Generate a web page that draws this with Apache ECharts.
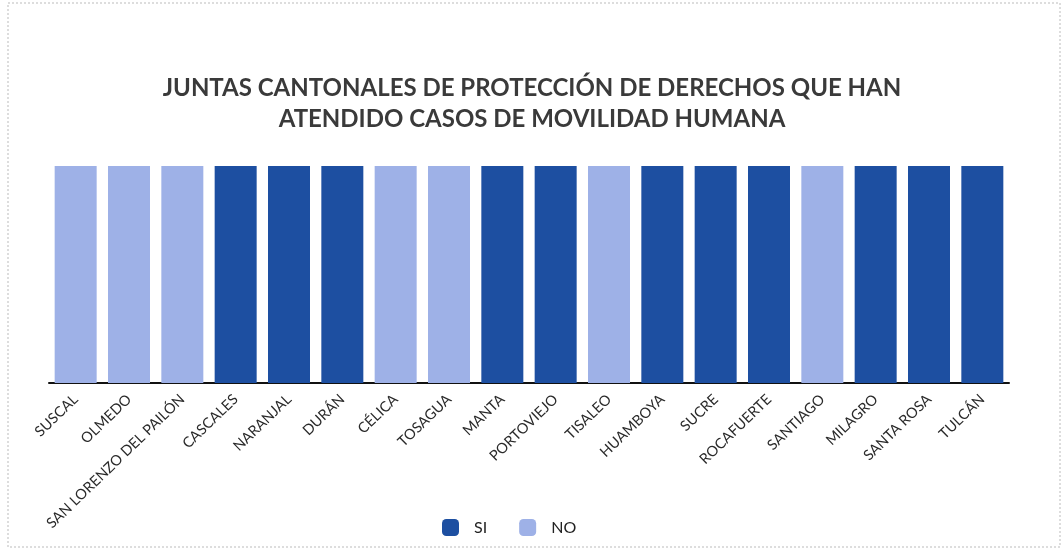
<!DOCTYPE html>
<html>
<head>
<meta charset="utf-8">
<script src="https://cdn.jsdelivr.net/npm/echarts@6/dist/echarts.min.js"></script>
<style>
html,body{margin:0;padding:0;background:#fff;}
#chart{width:1064px;height:551px;}
</style>
</head>
<body>
<div id="chart"></div>
<script>
const categories = ["SUSCAL","OLMEDO","SAN LORENZO DEL PAILÓN","CASCALES","NARANJAL","DURÁN","CÉLICA","TOSAGUA","MANTA","PORTOVIEJO","TISALEO","HUAMBOYA","SUCRE","ROCAFUERTE","SANTIAGO","MILAGRO","SANTA ROSA","TULCÁN"];
const siValues = [null,null,null,1,1,1,null,null,1,1,null,1,1,1,null,1,1,1];
const noValues = [1,1,1,null,null,null,1,1,null,null,1,null,null,null,1,null,null,null];
const titleText = "JUNTAS CANTONALES DE PROTECCIÓN DE DERECHOS QUE HAN\nATENDIDO CASOS DE MOVILIDAD HUMANA";

const chart = echarts.init(document.getElementById('chart'));
chart.setOption({
  backgroundColor: '#ffffff',
  animation: false,
  title: {
    text: titleText,
    left: 'center',
    top: 68,
    textStyle: {fontFamily: 'Lato', fontSize: 24, fontWeight: 'bold', color: '#3a3a3a', lineHeight: 31}
  },
  legend: {
    top: 514,
    left: 437,
    itemWidth: 17,
    itemHeight: 17,
    itemGap: 32,
    textStyle: {fontFamily: 'Lato', fontSize: 16, color: '#222222', padding: [0, 0, 0, 10]},
    data: ['SI','NO']
  },
  grid: {left: 49, right: 55, top: 166, bottom: 168},
  xAxis: {
    type: 'category',
    data: categories,
    axisLine: {lineStyle: {color: '#111111', width: 2}},
    axisTick: {show: false},
    axisLabel: {rotate: 44, interval: 0, fontFamily: 'Lato', fontSize: 14.5, color: '#2a2a2a', margin: 14}
  },
  yAxis: {
    type: 'value', min: 0, max: 1, show: false, splitLine: {show: false}
  },
  series: [
    {name: 'SI', type: 'bar', data: siValues, barWidth: 42, barGap: '-100%', itemStyle: {color: '#1d4fa1'}},
    {name: 'NO', type: 'bar', data: noValues, barWidth: 42, itemStyle: {color: '#9eb1e7'}}
  ],
  graphic: [
    {type: 'rect', shape: {x: 8, y: 3, width: 1052, height: 544}, style: {fill: 'none', stroke: '#bbbbbb', lineWidth: 1, lineDash: [2, 2]}, silent: true}
  ]
});
</script>
</body>
</html>
